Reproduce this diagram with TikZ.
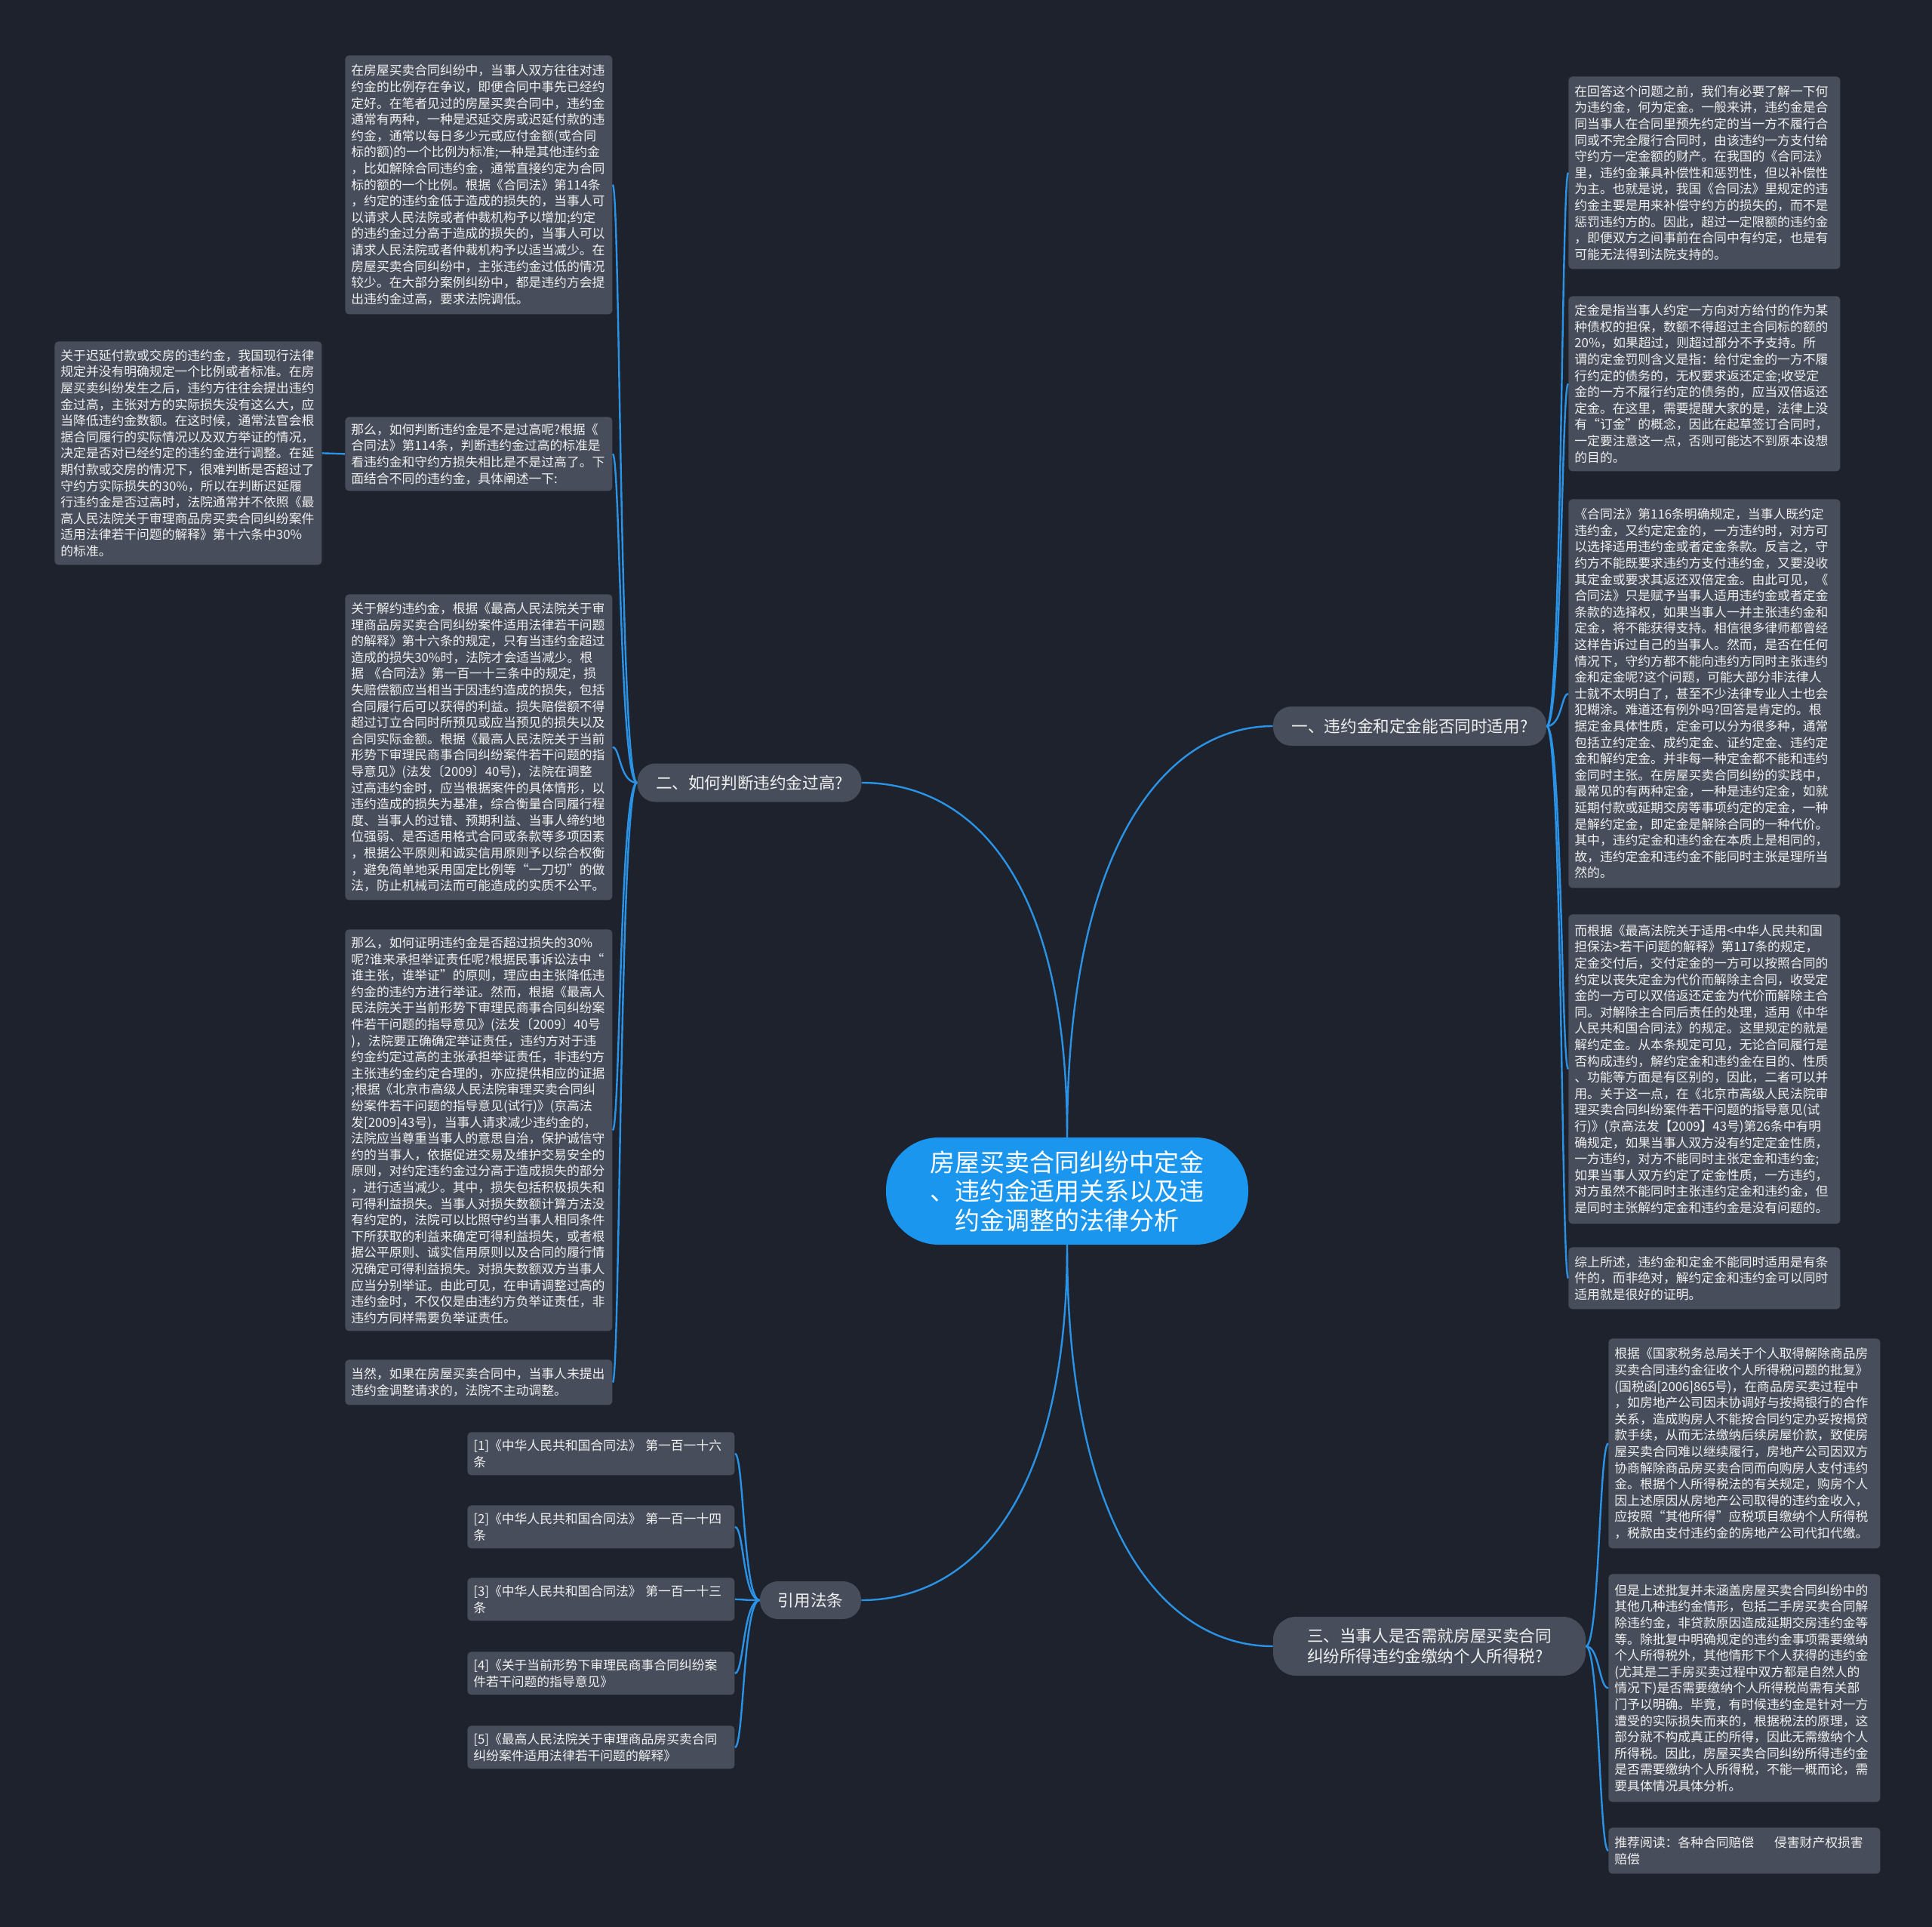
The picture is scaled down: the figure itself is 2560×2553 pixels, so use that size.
\documentclass[tikz,border=0pt]{standalone}
\usepackage{fontspec}
\setmainfont{Noto Sans CJK SC}
\definecolor{bgc}{HTML}{1E222C}
\definecolor{boxc}{HTML}{474D5B}
\definecolor{txt}{HTML}{F0F0F0}
\definecolor{linec}{HTML}{2A93E6}
\definecolor{centerc}{HTML}{1A96EE}
\newcommand\leaffont{\fontsize{8.4}{10.8}\selectfont}
\newcommand\brfont{\fontsize{10.8}{13.5}\selectfont}
\newcommand\ctrfont{\fontsize{16.5}{19.2}\selectfont}
\begin{document}
\begin{tikzpicture}[x=0.5pt,y=-0.5pt,
  leaf/.style={fill=boxc, rounded corners=2.5pt, text=txt, font=\leaffont, align=left, inner xsep=4pt, inner ysep=0pt, anchor=north west, text width=169pt},
  leafR/.style={leaf, text width=172pt},
  branch/.style={fill=boxc, rounded corners=12pt, text=txt, font=\brfont, inner sep=0pt, align=left},
  ctr/.style={fill=centerc, rounded corners=35pt, text=white, font=\ctrfont, inner sep=0pt, align=center},
  conn/.style={draw=linec, line width=1.2pt}]
\fill[bgc] (0,0) rectangle (2560,2553);
\useasboundingbox (0,0) rectangle (2560,2553);

% center and branches
\node[ctr, minimum width=240pt, minimum height=71pt] (c) at (1414,1578) {房屋买卖合同纠纷中定金\\、违约金适用关系以及违\\约金调整的法律分析};
\node[branch, minimum width=181pt, minimum height=26pt] (b1) at (1868,962) {一、违约金和定金能否同时适用?};
\node[branch, minimum width=148.5pt, minimum height=25.5pt] (b2) at (993,1037) {二、如何判断违约金过高?};
\node[branch, minimum width=67pt, minimum height=25pt] (bref) at (1074,2120) {引用法条};
\node[branch, rounded corners=15pt, minimum width=207pt, minimum height=39pt] (b3) at (1894,2181) {三、当事人是否需就房屋买卖合同\\纠纷所得违约金缴纳个人所得税?};

% left leaves
\node[leaf, minimum height=171.5pt] (L1) at (457,73) {在房屋买卖合同纠纷中，当事人双方往往对违\\
约金的比例存在争议，即便合同中事先已经约\\
定好。在笔者见过的房屋买卖合同中，违约金\\
通常有两种，一种是迟延交房或迟延付款的违\\
约金，通常以每日多少元或应付金额(或合同\\
标的额)的一个比例为标准;一种是其他违约金\\
，比如解除合同违约金，通常直接约定为合同\\
标的额的一个比例。根据《合同法》第114条\\
，约定的违约金低于造成的损失的，当事人可\\
以请求人民法院或者仲裁机构予以增加;约定\\
的违约金过分高于造成的损失的，当事人可以\\
请求人民法院或者仲裁机构予以适当减少。在\\
房屋买卖合同纠纷中，主张违约金过低的情况\\
较少。在大部分案例纠纷中，都是违约方会提\\
出违约金过高，要求法院调低。};

\node[leaf, minimum height=148pt] (Lfar) at (72,452) {关于迟延付款或交房的违约金，我国现行法律\\
规定并没有明确规定一个比例或者标准。在房\\
屋买卖纠纷发生之后，违约方往往会提出违约\\
金过高，主张对方的实际损失没有这么大，应\\
当降低违约金数额。在这时候，通常法官会根\\
据合同履行的实际情况以及双方举证的情况，\\
决定是否对已经约定的违约金进行调整。在延\\
期付款或交房的情况下，很难判断是否超过了\\
守约方实际损失的30\%，所以在判断迟延履\\
行违约金是否过高时，法院通常并不依照《最\\
高人民法院关于审理商品房买卖合同纠纷案件\\
适用法律若干问题的解释》第十六条中30\%\\
的标准。};

\node[leaf, minimum height=49pt] (L2) at (457,552) {那么，如何判断违约金是不是过高呢?根据《\\
合同法》第114条，判断违约金过高的标准是\\
看违约金和守约方损失相比是不是过高了。下\\
面结合不同的违约金，具体阐述一下:};

\node[leaf, minimum height=202.5pt] (L3) at (457,787) {关于解约违约金，根据《最高人民法院关于审\\
理商品房买卖合同纠纷案件适用法律若干问题\\
的解释》第十六条的规定，只有当违约金超过\\
造成的损失30\%时，法院才会适当减少。根\\
据~《合同法》第一百一十三条中的规定，损\\
失赔偿额应当相当于因违约造成的损失，包括\\
合同履行后可以获得的利益。损失赔偿额不得\\
超过订立合同时所预见或应当预见的损失以及\\
合同实际金额。根据《最高人民法院关于当前\\
形势下审理民商事合同纠纷案件若干问题的指\\
导意见》(法发〔2009〕40号)，法院在调整\\
过高违约金时，应当根据案件的具体情形，以\\
违约造成的损失为基准，综合衡量合同履行程\\
度、当事人的过错、预期利益、当事人缔约地\\
位强弱、是否适用格式合同或条款等多项因素\\
，根据公平原则和诚实信用原则予以综合权衡\\
，避免简单地采用固定比例等“一刀切”的做\\
法，防止机械司法而可能造成的实质不公平。};

\node[leaf, minimum height=266pt] (L4) at (457,1231) {那么，如何证明违约金是否超过损失的30\%\\
呢?谁来承担举证责任呢?根据民事诉讼法中“\\
谁主张，谁举证”的原则，理应由主张降低违\\
约金的违约方进行举证。然而，根据《最高人\\
民法院关于当前形势下审理民商事合同纠纷案\\
件若干问题的指导意见》(法发〔2009〕40号\\
)，法院要正确确定举证责任，违约方对于违\\
约金约定过高的主张承担举证责任，非违约方\\
主张违约金约定合理的，亦应提供相应的证据\\
;根据《北京市高级人民法院审理买卖合同纠\\
纷案件若干问题的指导意见(试行)》(京高法\\
发[2009]43号)，当事人请求减少违约金的，\\
法院应当尊重当事人的意思自治，保护诚信守\\
约的当事人，依据促进交易及维护交易安全的\\
原则，对约定违约金过分高于造成损失的部分\\
，进行适当减少。其中，损失包括积极损失和\\
可得利益损失。当事人对损失数额计算方法没\\
有约定的，法院可以比照守约当事人相同条件\\
下所获取的利益来确定可得利益损失，或者根\\
据公平原则、诚实信用原则以及合同的履行情\\
况确定可得利益损失。对损失数额双方当事人\\
应当分别举证。由此可见，在申请调整过高的\\
违约金时，不仅仅是由违约方负举证责任，非\\
违约方同样需要负举证责任。};

\node[leaf, minimum height=30pt] (L5) at (457,1801) {当然，如果在房屋买卖合同中，当事人未提出\\
违约金调整请求的，法院不主动调整。};

% references
\node[leaf, minimum height=28.5pt] (R1) at (619,1897) {[1]《中华人民共和国合同法》~第一百一十六\\条};
\node[leaf, minimum height=28.5pt] (R2) at (619,1994) {[2]《中华人民共和国合同法》~第一百一十四\\条};
\node[leaf, minimum height=28.5pt] (R3) at (619,2090) {[3]《中华人民共和国合同法》~第一百一十三\\条};
\node[leaf, minimum height=28.5pt] (R4) at (619,2188) {[4]《关于当前形势下审理民商事合同纠纷案\\件若干问题的指导意见》};
\node[leaf, minimum height=28.5pt] (R5) at (619,2286) {[5]《最高人民法院关于审理商品房买卖合同\\纠纷案件适用法律若干问题的解释》};

% right leaves
\node[leafR, minimum height=127.5pt] (Q1) at (2078,101) {在回答这个问题之前，我们有必要了解一下何\\
为违约金，何为定金。一般来讲，违约金是合\\
同当事人在合同里预先约定的当一方不履行合\\
同或不完全履行合同时，由该违约一方支付给\\
守约方一定金额的财产。在我国的《合同法》\\
里，违约金兼具补偿性和惩罚性，但以补偿性\\
为主。也就是说，我国《合同法》里规定的违\\
约金主要是用来补偿守约方的损失的，而不是\\
惩罚违约方的。因此，超过一定限额的违约金\\
，即便双方之间事前在合同中有约定，也是有\\
可能无法得到法院支持的。};

\node[leafR, minimum height=116pt] (Q2) at (2078,392) {定金是指当事人约定一方向对方给付的作为某\\
种债权的担保，数额不得超过主合同标的额的\\
20\%，如果超过，则超过部分不予支持。所\\
谓的定金罚则含义是指：给付定金的一方不履\\
行约定的债务的，无权要求返还定金;收受定\\
金的一方不履行约定的债务的，应当双倍返还\\
定金。在这里，需要提醒大家的是，法律上没\\
有“订金”的概念，因此在起草签订合同时，\\
一定要注意这一点，否则可能达不到原本设想\\
的目的。};

\node[leafR, minimum height=257.5pt] (Q3) at (2078,661) {《合同法》第116条明确规定，当事人既约定\\
违约金，又约定定金的，一方违约时，对方可\\
以选择适用违约金或者定金条款。反言之，守\\
约方不能既要求违约方支付违约金，又要没收\\
其定金或要求其返还双倍定金。由此可见，《\\
合同法》只是赋予当事人适用违约金或者定金\\
条款的选择权，如果当事人一并主张违约金和\\
定金，将不能获得支持。相信很多律师都曾经\\
这样告诉过自己的当事人。然而，是否在任何\\
情况下，守约方都不能向违约方同时主张违约\\
金和定金呢?这个问题，可能大部分非法律人\\
士就不太明白了，甚至不少法律专业人士也会\\
犯糊涂。难道还有例外吗?回答是肯定的。根\\
据定金具体性质，定金可以分为很多种，通常\\
包括立约定金、成约定金、证约定金、违约定\\
金和解约定金。并非每一种定金都不能和违约\\
金同时主张。在房屋买卖合同纠纷的实践中，\\
最常见的有两种定金，一种是违约定金，如就\\
延期付款或延期交房等事项约定的定金，一种\\
是解约定金，即定金是解除合同的一种代价。\\
其中，违约定金和违约金在本质上是相同的，\\
故，违约定金和违约金不能同时主张是理所当\\
然的。};

\node[leafR, minimum height=205pt] (Q4) at (2078,1211) {而根据《最高法院关于适用<中华人民共和国\\
担保法>若干问题的解释》第117条的规定，\\
定金交付后，交付定金的一方可以按照合同的\\
约定以丧失定金为代价而解除主合同，收受定\\
金的一方可以双倍返还定金为代价而解除主合\\
同。对解除主合同后责任的处理，适用《中华\\
人民共和国合同法》的规定。这里规定的就是\\
解约定金。从本条规定可见，无论合同履行是\\
否构成违约，解约定金和违约金在目的、性质\\
、功能等方面是有区别的，因此，二者可以并\\
用。关于这一点，在《北京市高级人民法院审\\
理买卖合同纠纷案件若干问题的指导意见(试\\
行)》(京高法发【2009】43号)第26条中有明\\
确规定，如果当事人双方没有约定定金性质，\\
一方违约，对方不能同时主张定金和违约金;\\
如果当事人双方约定了定金性质，一方违约，\\
对方虽然不能同时主张违约定金和违约金，但\\
是同时主张解约定金和违约金是没有问题的。};

\node[leafR, minimum height=41pt] (Q5) at (2078,1652) {综上所述，违约金和定金不能同时适用是有条\\
件的，而非绝对，解约定金和违约金可以同时\\
适用就是很好的证明。};

\node[leafR, minimum height=139pt] (S1) at (2131,1773) {根据《国家税务总局关于个人取得解除商品房\\
买卖合同违约金征收个人所得税问题的批复》\\
(国税函[2006]865号)，在商品房买卖过程中\\
，如房地产公司因未协调好与按揭银行的合作\\
关系，造成购房人不能按合同约定办妥按揭贷\\
款手续，从而无法缴纳后续房屋价款，致使房\\
屋买卖合同难以继续履行，房地产公司因双方\\
协商解除商品房买卖合同而向购房人支付违约\\
金。根据个人所得税法的有关规定，购房个人\\
因上述原因从房地产公司取得的违约金收入，\\
应按照“其他所得”应税项目缴纳个人所得税\\
，税款由支付违约金的房地产公司代扣代缴。};

\node[leafR, minimum height=151pt] (S2) at (2131,2085) {但是上述批复并未涵盖房屋买卖合同纠纷中的\\
其他几种违约金情形，包括二手房买卖合同解\\
除违约金，非贷款原因造成延期交房违约金等\\
等。除批复中明确规定的违约金事项需要缴纳\\
个人所得税外，其他情形下个人获得的违约金\\
(尤其是二手房买卖过程中双方都是自然人的\\
情况下)是否需要缴纳个人所得税尚需有关部\\
门予以明确。毕竟，有时候违约金是针对一方\\
遭受的实际损失而来的，根据税法的原理，这\\
部分就不构成真正的所得，因此无需缴纳个人\\
所得税。因此，房屋买卖合同纠纷所得违约金\\
是否需要缴纳个人所得税，不能一概而论，需\\
要具体情况具体分析。};

\node[leafR, minimum height=30.5pt] (S3) at (2131,2421) {推荐阅读：各种合同赔偿\hspace{1.6em}侵害财产权损害\\赔偿};

% connectors: center to branches
\draw[conn] (c.north) .. controls +(0,-364) and +(132,0) .. (b2.east);
\draw[conn] (c.north) .. controls +(0,-397) and +(-136,0) .. (b1.west);
\draw[conn] (c.south) .. controls +(0,359) and +(132,0) .. (bref.east);
\draw[conn] (c.south) .. controls +(0,392) and +(-136,0) .. (b3.west);

% branch 2 to leaves
\foreach \n in {L1,L2,L3,L4,L5}
  \draw[conn] (b2.west) .. controls +(-23,0) and +(10,0) .. (\n.east);
\draw[conn] (L2.west) -- (Lfar.east);
% references
\foreach \n in {R1,R2,R3,R4,R5}
  \draw[conn] (bref.west) .. controls +(-22,0) and +(12,0) .. (\n.east);
% branch 1
\foreach \n in {Q1,Q2,Q3,Q4,Q5}
  \draw[conn] (b1.east) .. controls +(20,0) and +(-9,0) .. (\n.west);
% branch 3
\foreach \n in {S1,S2,S3}
  \draw[conn] (b3.east) .. controls +(18,0) and +(-12,0) .. (\n.west);
\end{tikzpicture}
\end{document}
